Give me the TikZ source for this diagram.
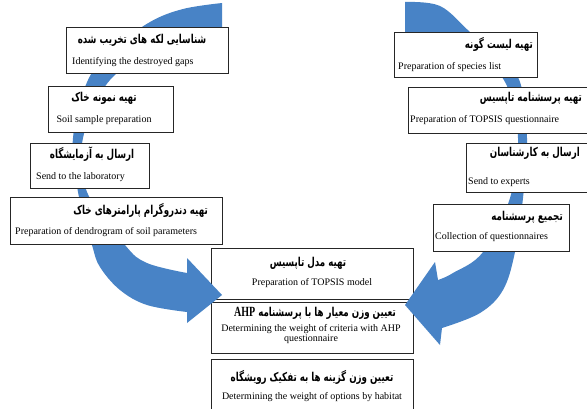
\documentclass[tikz,border=0pt]{standalone}
\usepackage{fontspec}
\usepackage{graphicx}
\setmainfont{Liberation Serif}
\newfontfamily\fa[Script=Arabic]{DejaVu Sans}
\TeXXeTstate=1
\definecolor{arrowblue}{RGB}{72,131,198}
\newcommand\fatext[1]{\scalebox{0.87}[1.22]{\fa\bfseries\fontsize{10}{11}\selectfont\beginR #1\endR}}
\begin{document}
\begin{tikzpicture}[x=1pt,y=-1pt,
  box/.style={draw=black!85,line width=0.8pt,fill=white,anchor=north west,inner sep=0pt},
  en/.style={font=\fontsize{10}{10.5}\selectfont,inner sep=0pt},
  fa/.style={inner sep=0pt},
  bigarrow/.style={fill=arrowblue,draw=none}]
\useasboundingbox (0,0) rectangle (587,408);
\clip (0,0) rectangle (587,408);
\fill[white] (0,0) rectangle (587,408);

% centre boxes
\node[box,minimum width=202pt,minimum height=51pt] (b9) at (211,248) {};
\node[box,minimum width=202pt,minimum height=51pt] (b10) at (211,302) {};
\node[box,minimum width=202pt,minimum height=60pt] (b11) at (211,359) {};

% left curved arrow
\fill[bigarrow] plot[smooth,tension=0.6] coordinates {(222,3) (183,9) (150,22) (115,48) (88,80) (73,138) (78,192) (92,245) (100,267) (120,290) (147,305) (187,312)}
  -- (187,323) -- (222,295) -- (187,258) -- (187,273)
  -- plot[smooth,tension=0.6] coordinates {(187,273) (147,263) (125,245) (87,192) (83,138) (110,80) (160,50) (222,40)} -- cycle;

% right curved arrow
\fill[bigarrow] plot[smooth,tension=0.6] coordinates {(405,2) (440,6) (470,32) (500,58) (520,82) (527,138) (523,198) (515,252) (503,290) (480,313) (442,328)}
  -- (440,345) -- (405,305) -- (435,262) -- (438,280)
  -- plot[smooth,tension=0.6] coordinates {(438,280) (453,273) (483,252) (510,198) (518,138) (505,82) (470,50) (405,40)} -- cycle;

% left boxes
\node[box,minimum width=162pt,minimum height=46pt] (b1) at (66,27) {};
\node[box,minimum width=125pt,minimum height=46pt] (b2) at (48,86) {};
\node[box,minimum width=119pt,minimum height=45pt] (b3) at (30,143) {};
\node[box,minimum width=212pt,minimum height=47pt] (b4) at (10,197) {};
% right boxes
\node[box,minimum width=143pt,minimum height=45pt] (b5) at (394,32) {};
\node[box,minimum width=178.5pt,minimum height=46pt] (b6) at (408,87) {};
\node[box,minimum width=120.5pt,minimum height=49pt] (b7) at (466,143) {};
\node[box,minimum width=136pt,minimum height=47pt] (b8) at (433,204) {};

% texts left
\node[fa] (t1a) at (142,40) {\fatext{شناسایی لکه های تخریب شده}};
\node[en,anchor=west] (t1b) at (72,62) {Identifying the destroyed gaps};
\node[fa] (t2a) at (104,98) {\fatext{تهیه نمونه خاک}};
\node[en] (t2b) at (104,120) {Soil sample preparation};
\node[fa] (t3a) at (92,154) {\fatext{ارسال به آزمایشگاه}};
\node[en,anchor=west] (t3b) at (36,177) {Send to the laboratory};
\node[fa,anchor=east] (t4a) at (208,210) {\fatext{تهیه دندروگرام پارامترهای خاک}};
\node[en,anchor=west] (t4b) at (15,232) {Preparation of dendrogram of soil parameters};

% texts right
\node[fa,anchor=east] (t5a) at (533,44) {\fatext{تهیه لیست گونه}};
\node[en,anchor=west] (t5b) at (398,67) {Preparation of species list};
\node[fa,anchor=east] (t6a) at (582,98) {\fatext{تهیه پرسشنامه تاپسیس}};
\node[en,anchor=west] (t6b) at (410,120) {Preparation of TOPSIS questionnaire};
\node[fa,anchor=east] (t7a) at (580,153) {\fatext{ارسال به کارشناسان}};
\node[en,anchor=west] (t7b) at (468,182) {Send to experts};
\node[fa,anchor=east] (t8a) at (563,217) {\fatext{تجمیع پرسشنامه}};
\node[en,anchor=west] (t8b) at (435,237) {Collection of questionnaires};

% texts centre
\node[fa] (t9a) at (308,263) {\fatext{تهیه مدل تاپسیس}};
\node[en] (t9b) at (312,283) {Preparation of TOPSIS model};
\node[fa] (t10a) at (315,313) {\fatext{تعیین وزن معیار ها با پرسشنامه \beginL{\rmfamily\bfseries\fontsize{11.5}{11}\selectfont AHP}\endL}};
\node[en,align=center] (t10b) at (311,334) {Determining the weight of criteria with AHP\\questionnaire};
\node[fa] (t11a) at (312,377) {\fatext{تعیین وزن گزینه ها به تفکیک رویشگاه}};
\node[en] (t11b) at (312,397) {Determining the weight of options by habitat};
\end{tikzpicture}
\end{document}
